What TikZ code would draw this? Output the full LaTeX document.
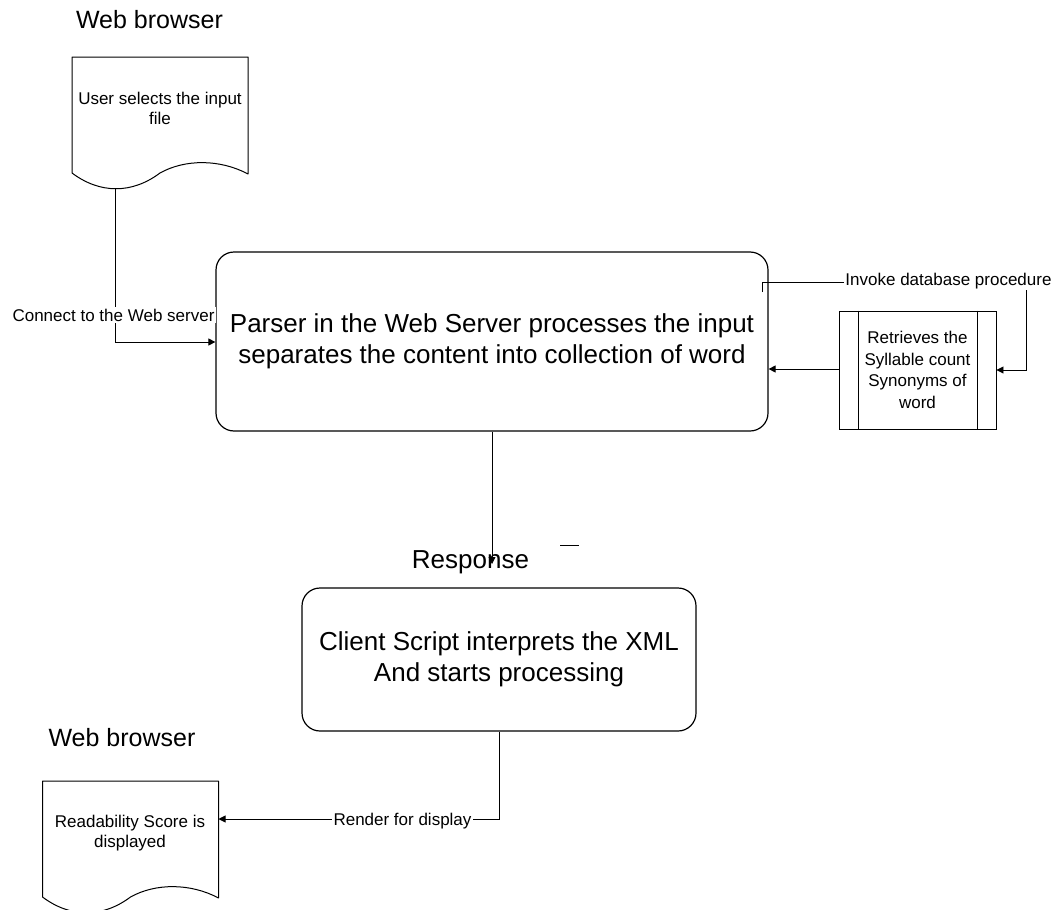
\documentclass[tikz,border=0pt]{standalone}
\usepackage{fontspec}
\setmainfont{Liberation Sans}
\usetikzlibrary{arrows.meta,calc}

\tikzset{
  % page-shaped symbol with a wavy bottom edge, 176 x 116 units
  docpage/.pic={
    \draw[line width=1pt, line join=round]
      (0,116) -- (0,0) -- (176,0) -- (176,117)
      .. controls (148,102) and (113,102) .. (88,116)
      .. controls (60,137) and (28,137) .. (0,116) -- cycle;
    \coordinate (-out) at (43,131.5);
    \coordinate (-edge) at (176,38);
  }
}

\begin{document}
\begin{tikzpicture}[x=1pt,y=-1pt,
  bigtext/.style={font=\fontsize{26}{31}\selectfont},
  headtext/.style={font=\fontsize{25}{30}\selectfont},
  smalltext/.style={font=\fontsize{17}{20}\selectfont},
  procbox/.style={draw, line width=1.2pt, rounded corners=18pt, align=center, inner sep=0pt, bigtext},
  subbox/.style={draw, line width=0.9pt, align=center, inner sep=0pt,
                 font=\fontsize{17}{21.5}\selectfont},
  conn/.style={line width=0.9pt, -{Triangle[length=7pt,width=7pt]}},
  tag/.style={fill=white, inner sep=1.5pt, smalltext}
]
\useasboundingbox (0,0) rectangle (1058,910);

% headings above the two browser pages
\node[headtext, anchor=base] (head1) at (149.5,28) {Web browser};
\node[headtext, anchor=base] (head2) at (122,746) {Web browser};

% browser pages
\pic (topdoc) at (72,57) {docpage};
\pic (botdoc) at (42.5,781) {docpage};
\node[smalltext, align=center] (toptext) at (160,108) {User selects the input\\file};
\node[smalltext, align=center] (bottext) at (130,833.5) {Readability Score is\\displayed};

% processing steps
\node[procbox, minimum width=552pt, minimum height=179pt] (mainbox) at (492,341.5)
  {Parser in the Web Server processes the input\\separates the content into collection of word};
\node[procbox, minimum width=394pt, minimum height=143pt] (clientbox) at (499,659.5)
  {Client Script interprets the XML\\And starts processing};

% predefined process: database lookup
\node[subbox, minimum width=157pt, minimum height=118pt] (rbox) at (917.5,370)
  {Retrieves the\\Syllable count\\Synonyms of\\word};
\draw[line width=0.9pt] ($(rbox.north west)+(20,0)$) -- ($(rbox.south west)+(20,0)$);
\draw[line width=0.9pt] ($(rbox.north east)+(-19,0)$) -- ($(rbox.south east)+(-19,0)$);

% connectors
\draw[conn] (topdoc-out) |- ($(mainbox.west)+(0,0.5)$);
\node[tag, anchor=base] (lconnect) at (113.5,321) {Connect to the Web server};

\coordinate (invstart) at (762,292);
\draw[conn] (invstart) -- ++(0,-10) -| ($(rbox.east)+(30,0)$) -- (rbox.east);
\node[tag, anchor=base] (linvoke) at (948.5,285) {Invoke database procedure};

\draw[conn] ($(rbox.west)+(0,-1)$) -- ($(rbox.west -| mainbox.east)+(0,-1)$);

\coordinate (resptip) at (492,564);
\draw[conn] (mainbox.south) -- (resptip);
\node[bigtext, anchor=base] (lresponse) at (470.5,568) {Response};
\draw[line width=1pt] (560,545) -- (579,545);

\coordinate (rendcorner) at (499,819);
\draw[conn] (clientbox.south) -- (rendcorner) -- (rendcorner -| botdoc-edge);
\node[tag, anchor=base] (lrender) at (402.5,825) {Render for display};
\end{tikzpicture}
\end{document}
